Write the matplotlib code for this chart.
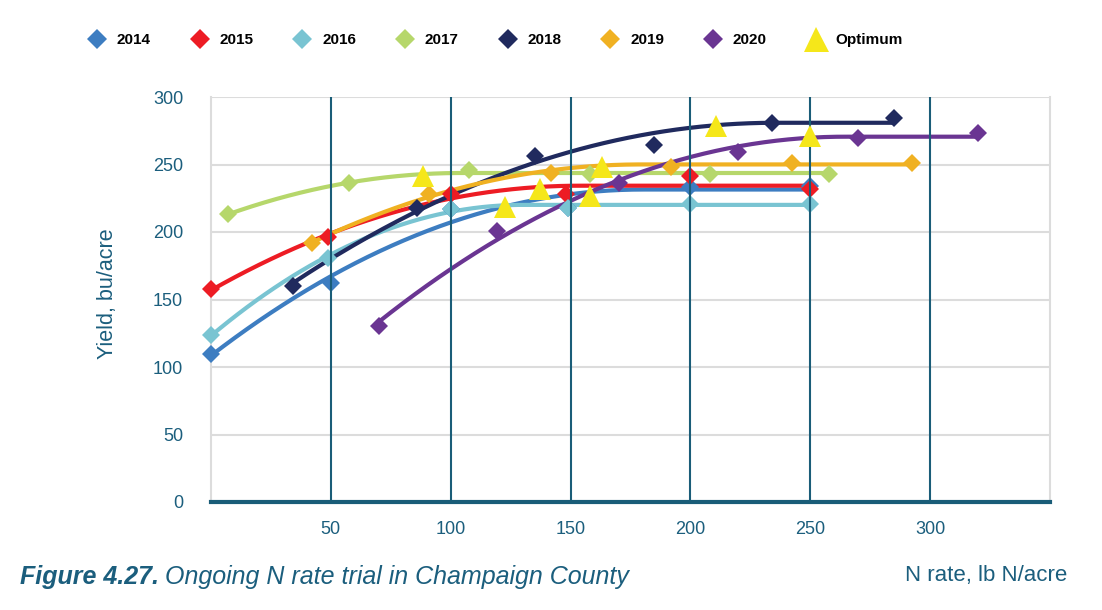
import numpy as np
import matplotlib.pyplot as plt
from matplotlib.lines import Line2D

plt.rcParams["font.family"] = ["Liberation Sans", "DejaVu Sans"]

# N rate (lb N/acre) and yield (bu/acre)
years = ["2014", "2015", "2016", "2017", "2018", "2019", "2020"]
colors = ["#3d7dc1", "#ed1c24", "#79c4d2", "#b6d76b", "#202a5e", "#f0b122", "#6a3592"]

n_2014 = [0, 50, 100, 149, 200, 250]
y_2014 = [109.5, 162, 217, 218, 233, 234]
n_2015 = [0, 49, 100, 148, 200, 250]
y_2015 = [157.5, 196, 228, 228, 241.5, 231.7]
n_2016 = [0, 49, 100, 149, 200, 250]
y_2016 = [123.6, 181, 217, 218, 220.6, 220.6]
n_2017 = [7, 57.5, 107.5, 158, 208, 258]
y_2017 = [213, 236.6, 246, 243, 242.8, 243]
n_2018 = [34, 86, 135, 185, 234, 285]
y_2018 = [160, 218, 256, 264.5, 281, 284.5]
n_2019 = [42, 91, 142, 192, 242.5, 292.5]
y_2019 = [191.5, 228, 243.5, 248.5, 251.4, 251.2]
n_2020 = [70, 119.5, 170, 220, 270, 320]
y_2020 = [130.5, 201, 236, 259.6, 270, 273.6]

opt_n = [88.5, 122.5, 137.2, 158, 163, 210.7, 250]
opt_y = [241.5, 218.5, 231.7, 226.5, 248.5, 278.5, 271]

n_all = [n_2014, n_2015, n_2016, n_2017, n_2018, n_2019, n_2020]
y_all = [y_2014, y_2015, y_2016, y_2017, y_2018, y_2019, y_2020]

teal = "#1a5d78"
text_teal = "#1b5e7d"


def qp_fit(x, y):
    # quadratic-plateau fit: y = p + c*(min(x, x0) - x0)^2
    best = None
    for x0 in np.linspace(x.min() + 1, x.max() * 1.5, 500):
        d = (np.minimum(x, x0) - x0) ** 2
        A = np.column_stack([np.ones_like(x), d])
        coef, *_ = np.linalg.lstsq(A, y, rcond=None)
        sse = ((A @ coef - y) ** 2).sum()
        if coef[1] <= 0 and (best is None or sse < best[0]):
            best = (sse, x0, coef)
    return best[1], best[2]


fig = plt.figure(figsize=(11.02, 6.10), dpi=100)
ax = fig.add_axes([211 / 1102, 108 / 610, 839 / 1102, 405 / 610])

for n, y, c in zip(n_all, y_all, colors):
    n = np.array(n, dtype=float)
    y = np.array(y, dtype=float)
    x0, (p, k) = qp_fit(n, y)
    xs = np.linspace(n.min(), n.max(), 200)
    ax.plot(xs, p + k * (np.minimum(xs, x0) - x0) ** 2, color=c, lw=3, zorder=2,
            solid_capstyle="butt", clip_on=False)
    ax.plot(n, y, "D", color=c, ms=9.5, mew=0, zorder=3, clip_on=False)

for xv in [50, 100, 150, 200, 250, 300]:
    ax.axvline(xv, color=teal, lw=1.5, zorder=4)

ax.plot(opt_n, opt_y, "^", color="#f5e71a", ms=16, mew=0, ls="none", zorder=5)

ax.set_xlim(0, 350)
ax.set_ylim(0, 300)
ax.set_xticks([50, 100, 150, 200, 250, 300])
ax.set_yticks(range(0, 301, 50))
ax.yaxis.grid(True, color="#dcdcdc", lw=1.5, zorder=0)
ax.set_axisbelow(True)
ax.tick_params(length=0, labelsize=13, labelcolor=text_teal)
ax.tick_params(axis="x", pad=14)
ax.tick_params(axis="y", pad=20)

for s in ["left", "right"]:
    ax.spines[s].set_color("#dcdcdc")
    ax.spines[s].set_linewidth(1.5)
ax.spines["top"].set_visible(False)
ax.spines["bottom"].set_color(teal)
ax.spines["bottom"].set_linewidth(3)
ax.spines["bottom"].set_zorder(6)

fig.text(108 / 1102, 1 - 294 / 610, "Yield, bu/acre", rotation=90, ha="center",
         va="center", fontsize=15.5, color=text_teal)
cap = fig.text(20 / 1102, 1 - 577 / 610, "Figure 4.27.", fontsize=18, fontweight="bold",
               style="italic", color=text_teal, va="center")
fig.canvas.draw()
bb = cap.get_window_extent().transformed(fig.transFigure.inverted())
fig.text(bb.x1 + 6 / 1102, 1 - 577 / 610, "Ongoing N rate trial in Champaign County",
         fontsize=18, style="italic", color=text_teal, va="center")
fig.text(1067 / 1102, 1 - 576 / 610, "N rate, lb N/acre", fontsize=16,
         color=text_teal, ha="right", va="center")

handles = [Line2D([], [], marker="D", color=c, ls="none", ms=10, mew=0) for c in colors]
handles.append(Line2D([], [], marker="^", color="#f5e71a", ls="none", ms=18, mew=0))
fig.legend(handles, years + ["Optimum"], ncol=8, frameon=False,
           loc="center left", bbox_to_anchor=(83 / 1102, 1 - 40 / 610),
           prop={"weight": "bold", "size": 11}, handlelength=1.0,
           handletextpad=0.8, columnspacing=2.7, borderaxespad=0)

fig.savefig("out.png", dpi=100)
